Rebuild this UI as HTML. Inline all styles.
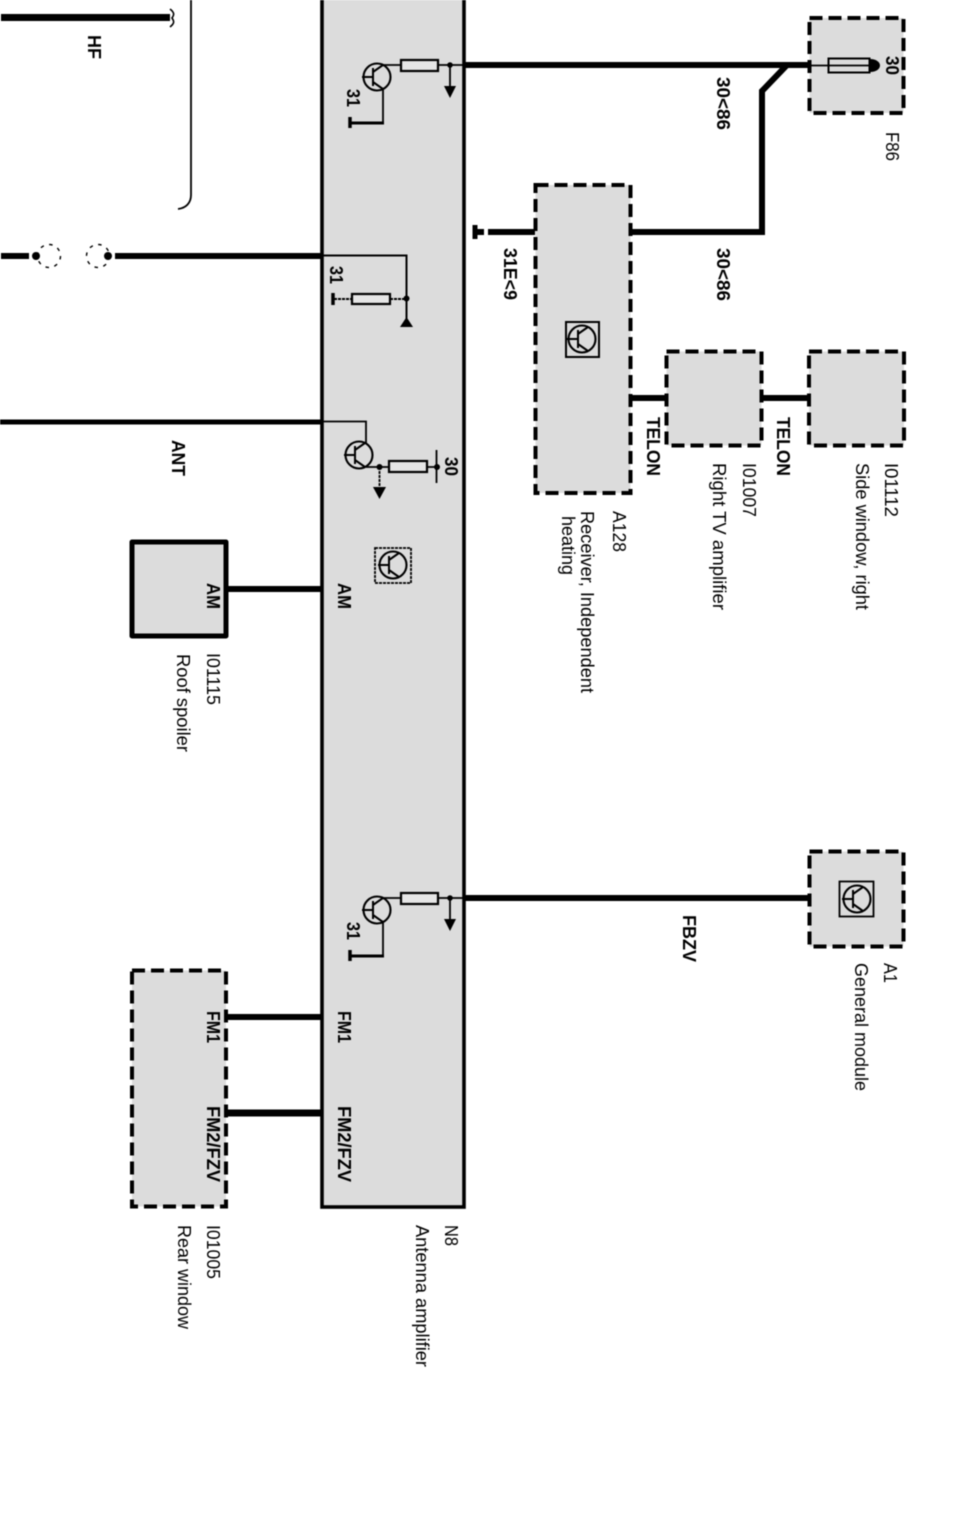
<!DOCTYPE html>
<html>
<head>
<meta charset="utf-8">
<title>Antenna amplifier wiring diagram</title>
<style>
html,body{margin:0;padding:0;background:#fff;width:960px;height:1524px;overflow:hidden}
svg{display:block;filter:blur(.45px)}
text{font-family:"Liberation Sans",Arial,sans-serif;font-size:18.500px;fill:#000}
.b{font-weight:bold;font-size:18px}
.box{fill:#dcdcdc;stroke:#000;stroke-width:4;stroke-dasharray:13 6}
.w{stroke:#000;fill:none}
.t{stroke:#000;fill:none;stroke-width:1.8}
</style>
</head>
<body>
<svg width="960" height="1524" viewBox="0 0 960 1524" xmlns="http://www.w3.org/2000/svg">
<defs>
<g id="ic">
<circle cx="0" cy="0" r="13.500" fill="none" stroke="#000" stroke-width="2.100"/>
<path d="M-4-9V9M-4-5L6-12M-4 5L6 12M-15 0H-4" fill="none" stroke="#000" stroke-width="2"/>
</g>
<g id="stage">
<use href="#ic" x="377" y="77"/>
<path class="t" d="M383 65H464"/>
<rect x="401" y="60" width="37" height="11" fill="#e6e6e6" stroke="#000" stroke-width="2.200"/>
<circle cx="450" cy="65" r="2.800"/>
<path class="t" d="M450 65V88M383 88V123"/>
<path d="M444 86H456L450 98Z"/>
<path class="w" stroke-width="3" d="M350 123H384"/>
<path class="w" stroke-width="3.500" d="M350 117V128"/>
</g>
</defs>

<rect width="960" height="1524" fill="#fff"/>

<!-- N8 -->
<rect x="322" y="-10" width="142" height="1217" fill="#dcdcdc" stroke="#000" stroke-width="3.600"/>

<!-- top left wires -->
<path class="w" stroke-width="7" d="M1 17.500H170"/>
<path class="w" stroke-width="1.600" d="M170 9C175 13 174 15 172 18C174 21 175 23 170 27"/>
<path class="w" stroke-width="1.800" d="M191 0V195C191 203 186 208 178 209"/>
<path class="w" stroke-width="6" d="M1 256H29M115 256H322"/>
<circle cx="36" cy="256" r="4"/><circle cx="108" cy="256" r="4"/>
<circle cx="49" cy="256" r="11.500" fill="none" stroke="#000" stroke-width="1.400" stroke-dasharray="3.500 5.500"/>
<circle cx="98" cy="256" r="11.500" fill="none" stroke="#000" stroke-width="1.400" stroke-dasharray="3.500 5.500"/>
<path class="w" stroke-width="5" d="M0 422H322"/>

<!-- transistor stage 1 and 3 -->
<use href="#stage"/>
<use href="#stage" y="833"/>

<!-- middle circuit 2 -->
<path class="w" stroke-width="2" d="M322 255.500H406.500V320"/>
<path class="w" stroke-width="2" stroke-dasharray="3 1" d="M334 299H406"/>
<path class="w" stroke-width="3.500" d="M333 293V305"/>
<rect x="352" y="294" width="38" height="10" fill="#e6e6e6" stroke="#000" stroke-width="2.200"/>
<circle cx="406.500" cy="298.500" r="3"/>
<path d="M400 327H413L406.500 317Z"/>

<!-- ANT transistor -->
<path class="t" stroke-width="2" d="M322 421.500H366V443"/>
<use href="#ic" x="359" y="455"/>
<path class="t" d="M366 467H437"/>
<rect x="389" y="461" width="38" height="11" fill="#e6e6e6" stroke="#000" stroke-width="2.200"/>
<circle cx="379.500" cy="467" r="3"/><circle cx="437" cy="467" r="3"/>
<path class="t" d="M379.500 467V489" stroke-dasharray="3 1"/>
<path d="M373 487H386L379.500 499Z"/>
<path class="t" d="M436.500 450V483"/>

<!-- N8 icon -->
<rect x="375" y="548" width="36" height="35" fill="none" stroke="#000" stroke-width="1.800" stroke-dasharray="3 1"/>
<use href="#ic" x="393" y="565"/>

<!-- thick wires right -->
<path class="w" stroke-width="6" d="M464 65H808M787 65L762 91V232H632"/>
<path class="w" stroke-width="6" d="M464 898H808"/>
<path class="w" stroke-width="6" d="M488 232H535"/>
<path class="w" stroke-width="5" d="M475 225V239"/>
<path d="M475 229H484V235H475Z"/>
<path class="w" stroke-width="6" d="M631 398H666M763 398H808"/>
<path class="w" stroke-width="6" d="M228 589H322M226 1017H322"/>
<path class="w" stroke-width="7" d="M226 1113H322"/>

<!-- boxes -->
<rect class="box" x="809.500" y="18" width="94" height="95"/>
<rect class="box" x="535.500" y="185" width="95" height="308"/>
<rect class="box" x="666.500" y="351.500" width="95" height="94"/>
<rect class="box" x="809" y="351.500" width="95" height="94"/>
<rect class="box" x="809.500" y="851.500" width="94" height="95"/>
<rect class="box" x="132" y="970.500" width="94" height="236"/>
<rect x="132" y="542" width="94" height="94" fill="#dcdcdc" stroke="#000" stroke-width="5" stroke-linejoin="round"/>
<path class="w" stroke-width="6" d="M226 1017H232M226 1113H232"/>

<!-- fuse -->
<path class="t" d="M808 65.500H872"/>
<rect x="828.500" y="58.500" width="41" height="14" fill="none" stroke="#000" stroke-width="2"/>
<path d="M870 59C876 59 880 62 880 65.500C880 69 876 72 870 72Z"/>

<!-- A128 & A1 icons -->
<rect x="566" y="322" width="33" height="35" fill="none" stroke="#000" stroke-width="2"/>
<use href="#ic" x="582" y="339"/>
<rect x="839.500" y="881.500" width="34" height="35" fill="none" stroke="#000" stroke-width="1.800"/>
<use href="#ic" x="857" y="899"/>

<!-- labels: rotated clockwise, baseline on the left -->
<g transform="translate(1 0)">
<text class="b" transform="translate(87 35) rotate(90)" textLength="24" lengthAdjust="spacingAndGlyphs">HF</text>
<text class="b" transform="translate(171 440) rotate(90)" textLength="36" lengthAdjust="spacingAndGlyphs">ANT</text>
<text class="b" transform="translate(346 89) rotate(90)" textLength="18" lengthAdjust="spacingAndGlyphs">31</text>
<text class="b" transform="translate(329 266) rotate(90)" textLength="18" lengthAdjust="spacingAndGlyphs">31</text>
<text class="b" transform="translate(346 922) rotate(90)" textLength="18" lengthAdjust="spacingAndGlyphs">31</text>
<text class="b" transform="translate(444 457) rotate(90)" textLength="19" lengthAdjust="spacingAndGlyphs">30</text>
<text class="b" transform="translate(885 56) rotate(90)" textLength="19" lengthAdjust="spacingAndGlyphs">30</text>
<text transform="translate(885 132) rotate(90)" textLength="29" lengthAdjust="spacingAndGlyphs">F86</text>
<text class="b" transform="translate(716 77) rotate(90)" textLength="53" lengthAdjust="spacingAndGlyphs">30&lt;86</text>
<text class="b" transform="translate(716 248) rotate(90)" textLength="53" lengthAdjust="spacingAndGlyphs">30&lt;86</text>
<text class="b" transform="translate(503 248) rotate(90)" textLength="52" lengthAdjust="spacingAndGlyphs">31E&lt;9</text>
<text class="b" transform="translate(646 417) rotate(90)" textLength="59" lengthAdjust="spacingAndGlyphs">TELON</text>
<text class="b" transform="translate(776 417) rotate(90)" textLength="59" lengthAdjust="spacingAndGlyphs">TELON</text>

<text transform="translate(612 511) rotate(90)" textLength="41" lengthAdjust="spacingAndGlyphs">A128</text>
<text transform="translate(580 511) rotate(90)" textLength="182" lengthAdjust="spacingAndGlyphs">Receiver, Independent</text>
<text transform="translate(561 516) rotate(90)" textLength="59" lengthAdjust="spacingAndGlyphs">heating</text>
<text transform="translate(742 463) rotate(90)" textLength="54" lengthAdjust="spacingAndGlyphs">I01007</text>
<text transform="translate(712 463) rotate(90)" textLength="147" lengthAdjust="spacingAndGlyphs">Right TV amplifier</text>
<text transform="translate(884 463) rotate(90)" textLength="54" lengthAdjust="spacingAndGlyphs">I01112</text>
<text transform="translate(855 463) rotate(90)" textLength="147" lengthAdjust="spacingAndGlyphs">Side window, right</text>

<text class="b" transform="translate(337 583) rotate(90)" textLength="26" lengthAdjust="spacingAndGlyphs">AM</text>
<text class="b" transform="translate(206 583) rotate(90)" textLength="26" lengthAdjust="spacingAndGlyphs">AM</text>
<text transform="translate(206 653) rotate(90)" textLength="52" lengthAdjust="spacingAndGlyphs">I01115</text>
<text transform="translate(176 654) rotate(90)" textLength="98" lengthAdjust="spacingAndGlyphs">Roof spoiler</text>

<text class="b" transform="translate(682 915) rotate(90)" textLength="47" lengthAdjust="spacingAndGlyphs">FBZV</text>
<text transform="translate(883 963) rotate(90)" textLength="20" lengthAdjust="spacingAndGlyphs">A1</text>
<text transform="translate(854 963) rotate(90)" textLength="128" lengthAdjust="spacingAndGlyphs">General module</text>

<text class="b" transform="translate(337 1011) rotate(90)" textLength="32" lengthAdjust="spacingAndGlyphs">FM1</text>
<text class="b" transform="translate(206 1011) rotate(90)" textLength="32" lengthAdjust="spacingAndGlyphs">FM1</text>
<text class="b" transform="translate(337 1106) rotate(90)" textLength="76" lengthAdjust="spacingAndGlyphs">FM2/FZV</text>
<text class="b" transform="translate(206 1106) rotate(90)" textLength="76" lengthAdjust="spacingAndGlyphs">FM2/FZV</text>
<text transform="translate(206 1225) rotate(90)" textLength="54" lengthAdjust="spacingAndGlyphs">I01005</text>
<text transform="translate(177 1225) rotate(90)" textLength="104" lengthAdjust="spacingAndGlyphs">Rear window</text>
<text transform="translate(444 1225) rotate(90)" textLength="21" lengthAdjust="spacingAndGlyphs">N8</text>
<text transform="translate(415 1225) rotate(90)" textLength="142" lengthAdjust="spacingAndGlyphs">Antenna amplifier</text>
</g>
</svg>
</body>
</html>
